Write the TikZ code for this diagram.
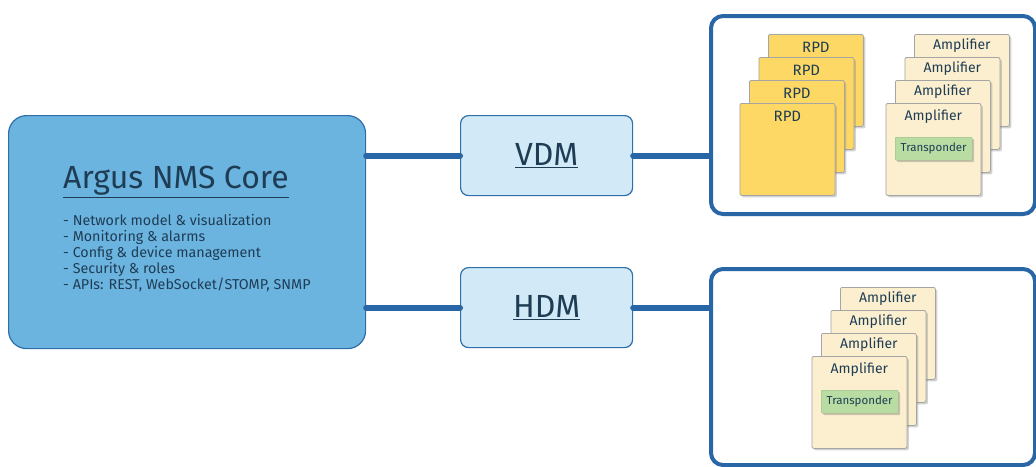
\documentclass[tikz,border=0pt]{standalone}
\usepackage{fontspec}
\setmainfont{Fira Sans}
\usetikzlibrary{shadows,calc}
\definecolor{corefill}{HTML}{6CB4E0}
\definecolor{coreline}{HTML}{2F6FA8}
\definecolor{dmfill}{HTML}{D2EAF7}
\definecolor{connc}{HTML}{2866A6}
\definecolor{txtc}{HTML}{1E3D55}
\definecolor{rpdfill}{HTML}{FDD865}
\definecolor{ampfill}{HTML}{FCEFCF}
\definecolor{trfill}{HTML}{B9DCA2}
\definecolor{cardline}{HTML}{A5A5A5}
\tikzset{
  corebox/.style={draw=coreline, line width=1.2pt, fill=corefill, rounded corners=18pt, inner sep=0pt},
  dmbox/.style={draw=coreline, line width=1.2pt, fill=dmfill, rounded corners=8pt, inner sep=0pt, minimum width=172pt, minimum height=80pt, font=\fontsize{32}{34}\selectfont, text=txtc},
  groupbox/.style={draw=connc, line width=4pt, fill=white, rounded corners=12pt, inner sep=0pt,
     drop shadow={shadow xshift=1pt, shadow yshift=-2pt, opacity=0.25}},
  conn/.style={draw=connc, line width=6pt, line cap=round},
  card/.style={draw=cardline, line width=0.8pt, rounded corners=2pt, minimum width=95pt, minimum height=92pt, inner sep=0pt, anchor=north west,
     drop shadow={shadow xshift=2pt, shadow yshift=-2pt, opacity=0.35}},
  rpd/.style={card, fill=rpdfill},
  amp/.style={card, fill=ampfill},
  cardlbl/.style={text=txtc, font=\fontsize{14}{16}\selectfont, inner sep=0pt},
  trans/.style={fill=trfill, draw=trfill!80!black, line width=0.3pt, rounded corners=1pt, minimum width=77pt, minimum height=23pt, inner sep=0pt, text=txtc, font=\fontsize{11.5}{13}\selectfont,
     drop shadow={shadow xshift=2pt, shadow yshift=-2pt, opacity=0.4}},
}
\begin{document}
\begin{tikzpicture}[x=1pt,y=-1pt]
\clip (0,0) rectangle (1036,466);
\fill[white] (0,0) rectangle (1036,466);

% group boxes
\node[groupbox, minimum width=324pt, minimum height=198pt, anchor=north west] (gA) at (709,14) {};
\node[groupbox, minimum width=324pt, minimum height=196pt, anchor=north west] (gB) at (709,267) {};

% core
\node[corebox, minimum width=357pt, minimum height=233pt, anchor=north west] (core) at (8,115) {};
\node[anchor=west, text=txtc, font=\fontsize{32}{36}\selectfont, inner sep=0pt] (title) at (63,182) {\underline{Argus NMS Core}};
\node[anchor=north west, text=txtc, font=\fontsize{14.3}{16}\selectfont, inner sep=0pt, align=left] (list) at (63,214) {%
- Network model \& visualization\\
- Monitoring \& alarms\\
- Config \& device management\\
- Security \& roles\\
- APIs: REST, WebSocket/STOMP, SNMP};

% DM boxes
\node[dmbox, anchor=north west] (vdm) at (460,115) {\underline{VDM}};
\node[dmbox, anchor=north west] (hdm) at (460,267) {\underline{HDM}};

% connectors
\draw[conn] (core.east |- vdm.west) -- (vdm.west);
\draw[conn] (core.east |- hdm.west) -- (hdm.west);
\draw[conn] (vdm.east) -- (vdm.east -| gA.west);
\draw[conn] (hdm.east) -- (hdm.east -| gB.west);

% RPD stack
\node[rpd] (r4) at (768,34) {};
\node[cardlbl, font=\fontsize{15}{17}\selectfont] (r4t) at ($(r4.north)+(0,13)$) {RPD};
\node[rpd] (r3) at (758.5,57) {};
\node[cardlbl, font=\fontsize{15}{17}\selectfont] (r3t) at ($(r3.north)+(0,13)$) {RPD};
\node[rpd] (r2) at (749,80) {};
\node[cardlbl, font=\fontsize{15}{17}\selectfont] (r2t) at ($(r2.north)+(0,13)$) {RPD};
\node[rpd] (r1) at (739.5,103) {};
\node[cardlbl, font=\fontsize{15}{17}\selectfont] (r1t) at ($(r1.north)+(0,13)$) {RPD};

% Amplifier stack A
\node[amp] (a4) at (914,34) {};
\node[cardlbl] (a4t) at ($(a4.north)+(0,12)$) {Amplifier};
\node[amp] (a3) at (904.5,57) {};
\node[cardlbl] (a3t) at ($(a3.north)+(0,12)$) {Amplifier};
\node[amp] (a2) at (895,80) {};
\node[cardlbl] (a2t) at ($(a2.north)+(0,12)$) {Amplifier};
\node[amp] (a1) at (885.5,103) {};
\node[cardlbl] (a1t) at ($(a1.north)+(0,14)$) {Amplifier};
\node[trans, anchor=north west] (t1) at (895,137) {Transponder};

% Amplifier stack B
\node[amp] (b4) at (840,287) {};
\node[cardlbl] (b4t) at ($(b4.north)+(0,12)$) {Amplifier};
\node[amp] (b3) at (830.5,310) {};
\node[cardlbl] (b3t) at ($(b3.north)+(0,12)$) {Amplifier};
\node[amp] (b2) at (821,333) {};
\node[cardlbl] (b2t) at ($(b2.north)+(0,12)$) {Amplifier};
\node[amp] (b1) at (811.5,356) {};
\node[cardlbl] (b1t) at ($(b1.north)+(0,14)$) {Amplifier};
\node[trans, anchor=north west] (t2) at (821,390) {Transponder};
\end{tikzpicture}
\end{document}
